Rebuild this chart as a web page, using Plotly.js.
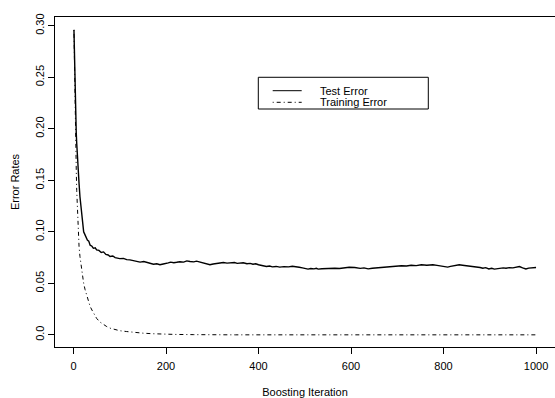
<!DOCTYPE html>
<html>
<head>
<meta charset="utf-8">
<script src="https://cdn.plot.ly/plotly-3.0.1.min.js"></script>
<style>html,body{margin:0;padding:0;background:#fff;}#chart{width:555px;height:398px;}</style>
</head>
<body>
<div id="chart"></div>
<script>
var testIter = [1,2,3,4,5,6,7,8,9,10,12,14,16,18,20,22,24,27,30,33,36,40,43,47,50,55,60,65,70,75,79,85,90,95,100,108,115,122,130,137,144,152,160,166,173,180,187,194,200,205,210,217,223,230,238,245,252,260,266,273,280,285,290,295,302,310,317,324,332,340,348,354,360,367,375,382,388,394,400,408,417,424,430,438,446,455,465,473,482,488,495,501,507,513,520,525,529,537,545,555,565,575,585,596,608,614,620,628,637,646,655,664,673,682,690,700,709,720,730,741,752,764,777,786,795,802,809,815,820,827,834,841,848,854,860,866,873,879,885,891,898,904,910,916,922,929,935,942,950,957,964,971,978,984,990,995,1000];
var testError = [0.296,0.27,0.248,0.229,0.212,0.196,0.186,0.176,0.167,0.16,0.147,0.134,0.124,0.115,0.107,0.100,0.098,0.095,0.092,0.091,0.087,0.086,0.084,0.0845,0.0825,0.082,0.080,0.0805,0.078,0.0775,0.076,0.0765,0.075,0.0745,0.074,0.0742,0.073,0.0728,0.072,0.0715,0.0706,0.0712,0.070,0.0695,0.0686,0.0690,0.068,0.0688,0.069,0.0698,0.0706,0.0700,0.0704,0.0710,0.0706,0.0718,0.0712,0.0708,0.0715,0.0706,0.0702,0.0696,0.0688,0.068,0.0688,0.0692,0.0698,0.0702,0.0696,0.0698,0.0702,0.0694,0.0696,0.0700,0.069,0.0694,0.0686,0.0690,0.068,0.0672,0.0663,0.0668,0.066,0.0664,0.0657,0.0662,0.066,0.0666,0.0663,0.0656,0.065,0.0645,0.0638,0.0644,0.064,0.0646,0.0638,0.0642,0.0645,0.0650,0.0647,0.0644,0.065,0.0656,0.0653,0.0648,0.0645,0.0650,0.064,0.0646,0.065,0.0648,0.0653,0.0658,0.066,0.0664,0.067,0.0668,0.0675,0.0672,0.068,0.0676,0.068,0.0674,0.067,0.0664,0.0657,0.0664,0.067,0.0674,0.068,0.0676,0.0672,0.0668,0.067,0.0664,0.066,0.0654,0.0647,0.0652,0.064,0.0646,0.0638,0.0644,0.0645,0.0650,0.0647,0.0652,0.065,0.0658,0.0663,0.0650,0.064,0.0648,0.065,0.0646,0.0653];
var trainIter = [1,2,3,4,5,6,7,8,9,10,11,12,14,16,18,20,22,25,28,32,36,40,45,50,57,65,72,79,90,100,115,130,151,170,187,220,260,300,350,1000];
var trainError = [0.296,0.26,0.228,0.199,0.178,0.16,0.14,0.125,0.112,0.1,0.092,0.086,0.076,0.068,0.061,0.055,0.050,0.044,0.039,0.033,0.0275,0.024,0.020,0.016,0.0125,0.0097,0.008,0.0065,0.005,0.004,0.0032,0.0024,0.0016,0.0011,0.0007,0.0004,0.0002,0.0001,0.0,0.0];
var xTicks = [0,200,400,600,800,1000];
var yTicks = [0,0.05,0.10,0.15,0.20,0.25,0.30];
var yTickText = ["0.0","0.05","0.10","0.15","0.20","0.25","0.30"];
var seriesNames = ["Test Error","Training Error"];

var font = {family:"Liberation Sans, Arial, Helvetica, sans-serif", size:11, color:"#000"};
var dashDot = "1px,3px,4px,3px";
var traces = [
  {x:testIter, y:testError, type:"scatter", mode:"lines", name:seriesNames[0],
   line:{color:"#000", width:1.4}},
  {x:trainIter, y:trainError, type:"scatter", mode:"lines", name:seriesNames[1],
   line:{color:"#000", width:1, dash:dashDot}}
];
// legend drawn in paper coordinates (box, sample lines, labels)
var lg = {x0:0.4066, x1:0.7466, y0:0.7212, y1:0.8173, lx0:0.4354, lx1:0.4934, tx:0.5266, ys:[0.7767,0.7415]};
var shapes = [
  {type:"rect", xref:"paper", yref:"paper", x0:lg.x0, x1:lg.x1, y0:lg.y0, y1:lg.y1,
   line:{color:"#000", width:1}, fillcolor:"#fff", layer:"above"},
  {type:"line", xref:"paper", yref:"paper", x0:lg.lx0, x1:lg.lx1, y0:lg.ys[0], y1:lg.ys[0],
   line:{color:"#000", width:1}, layer:"above"},
  {type:"line", xref:"paper", yref:"paper", x0:lg.lx0, x1:lg.lx1, y0:lg.ys[1], y1:lg.ys[1],
   line:{color:"#000", width:1, dash:dashDot}, layer:"above"}
];
var annotations = seriesNames.map(function(n,i){
  return {xref:"paper", yref:"paper", x:lg.tx, y:lg.ys[i], text:n, showarrow:false,
          xanchor:"left", yanchor:"middle", font:font};
});
var layout = {
  width:555, height:398,
  margin:{l:55, r:0, t:17, b:51, pad:0},
  paper_bgcolor:"#fff", plot_bgcolor:"#fff",
  font:font,
  showlegend:false,
  shapes:shapes, annotations:annotations,
  xaxis:{range:[-39.96,1040.96], tickmode:"array", tickvals:xTicks, ticks:"outside",
         ticklen:6, tickcolor:"#000", showgrid:false, zeroline:false, showline:true,
         linecolor:"#000", linewidth:1, mirror:true, ticklabelstandoff:3,
         title:{text:"Boosting Iteration", font:font, standoff:19}, automargin:false},
  yaxis:{range:[-0.0118,0.3085], tickmode:"array", tickvals:yTicks, ticktext:yTickText,
         ticks:"outside", ticklen:6, tickcolor:"#000", tickangle:-90, showgrid:false,
         zeroline:false, showline:true, linecolor:"#000", linewidth:1, mirror:false,
         title:{text:"Error Rates", font:font, standoff:11}, automargin:false}
};
Plotly.newPlot("chart", traces, layout, {staticPlot:true, displayModeBar:false});
</script>
</body>
</html>
